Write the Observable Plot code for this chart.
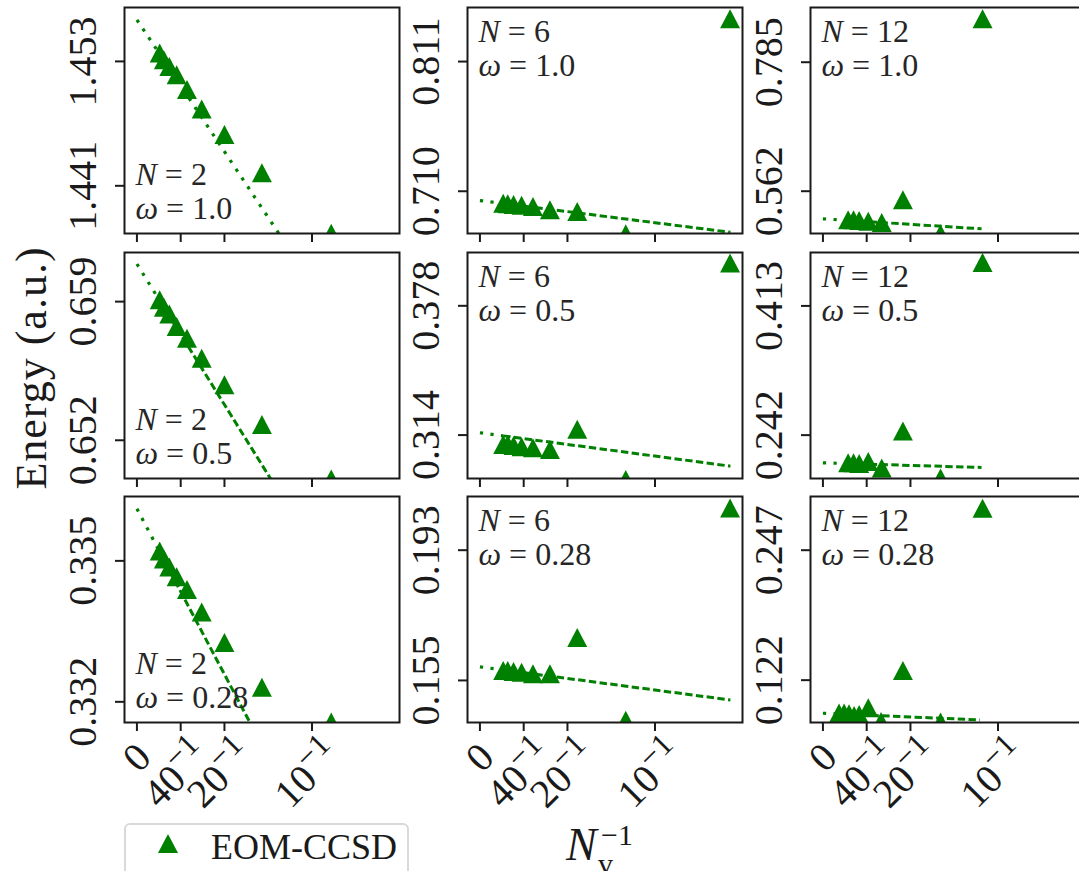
<!DOCTYPE html>
<html><head><meta charset="utf-8">
<script src="https://cdn.jsdelivr.net/npm/d3@7"></script>
<script src="https://cdn.jsdelivr.net/npm/@observablehq/plot@0.6"></script>
<style>
html,body{margin:0;padding:0;background:#fff;overflow:hidden;}
#fig{position:relative;width:1079px;height:871px;overflow:hidden;font-family:"Liberation Serif","DejaVu Serif","Noto Serif",serif;}
.panel{position:absolute;}
</style></head><body><div id="fig"></div>
<script>
// ---------------- data ----------------
const particleNumbers = [2, 6, 12];
const omegaLabels = ["1.0", "0.5", "0.28"];
const xTickValues = [0, 0.025, 0.05, 0.1];
const xTickLabels = ["0", "40^{-1}", "20^{-1}", "10^{-1}"];
const xDomain = [-0.0071, 0.15];

// N_v^{-1} values of the EOM-CCSD points
const nvInvN2 = [0.013, 0.0154, 0.0185, 0.0227, 0.0286, 0.037, 0.05, 0.0714, 0.111];
const nvInvN6 = [0.0133, 0.0159, 0.0192, 0.0238, 0.0303, 0.04, 0.0556, 0.0833, 0.1429];
const nvInvN12 = [0.0144, 0.0175, 0.0207, 0.0259, 0.0336, 0.0457, 0.0672, 0.0912];
const nvInvN12w028 = [0.0092, 0.0121, 0.0149, 0.0178, 0.0207, 0.0259, 0.0332, 0.0457, 0.0672, 0.0912];

// EOM-CCSD energies (a.u.)
const eN2w10 = [1.4538, 1.45316, 1.45252, 1.45172, 1.45028, 1.44841, 1.44595, 1.44226, 1.43642];
const eN2w05 = [0.65909, 0.65871, 0.65838, 0.65774, 0.65715, 0.65614, 0.6548, 0.65279, 0.65005];
const eN2w028 = [0.33521, 0.33504, 0.33487, 0.33466, 0.33439, 0.33391, 0.33326, 0.33231, 0.33157];
const eN6w10 = [0.70066, 0.70019, 0.69964, 0.6991, 0.69809, 0.69552, 0.69419, 0.67683, 0.84425];
const eN6w05 = [0.30939, 0.30939, 0.30889, 0.3082, 0.3077, 0.30691, 0.31683, 0.29202, 0.39918];
const eN6w028 = [0.1579, 0.1579, 0.15761, 0.15741, 0.15694, 0.15694, 0.16756, 0.1434, 0.20527];
const eN12w10 = [0.51256, 0.51256, 0.51135, 0.51014, 0.50789, 0.54713, 0.48836, 0.86002];
const eN12w05 = [0.20528, 0.20528, 0.20449, 0.20714, 0.19865, 0.2473, 0.1854, 0.47061];
const eN12w028 = [0.09034, 0.09034, 0.08967, 0.08805, 0.089, 0.09541, 0.08231, 0.13128, 0.08174, 0.28746];

// extrapolation lines: [N_v^{-1}, energy] at x=0, start of fit, end of fit
const fitN2w10 = [[0, 1.45701], [0.013, 1.45371], [0.111, 1.42879]];
const fitN2w05 = [[0, 0.6609], [0.013, 0.65905], [0.111, 0.64514]];
const fitN2w028 = [[0, 0.33611], [0.013, 0.33519], [0.111, 0.32829]];
const fitN6w10 = [[0, 0.70276], [0.0133, 0.70047], [0.1431, 0.67807]];
const fitN6w05 = [[0, 0.31514], [0.0133, 0.31361], [0.1431, 0.29862]];
const fitN6w028 = [[0, 0.15897], [0.0133, 0.15807], [0.1431, 0.14929]];
const fitN12w10 = [[0, 0.51429], [0.0144, 0.51154], [0.0906, 0.497]];
const fitN12w05 = [[0, 0.20528], [0.0144, 0.20431], [0.0906, 0.19918]];
const fitN12w028 = [[0, 0.09015], [0.0092, 0.08949], [0.0897, 0.08374]];

// y axis limits and ticks
const domN2w10 = [1.4364, 1.4582], ticksN2w10 = [1.441, 1.453];
const domN2w05 = [0.65007, 0.66148], ticksN2w05 = [0.652, 0.659];
const domN2w028 = [0.33156, 0.33637], ticksN2w028 = [0.332, 0.335];
const domN6w10 = [0.6771, 0.8531], ticksN6w10 = [0.710, 0.811];
const domN6w05 = [0.2925, 0.4044], ticksN6w05 = [0.314, 0.378];
const domN6w028 = [0.14273, 0.20866], ticksN6w028 = [0.155, 0.193];
const domN12w10 = [0.4889, 0.8796], ticksN12w10 = [0.562, 0.785];
const domN12w05 = [0.1846, 0.4837], ticksN12w05 = [0.242, 0.413];
const domN12w028 = [0.08126, 0.29865], ticksN12w028 = [0.122, 0.247];

// ---------------- layout ----------------
const GREEN = "#008000";
const INK = "#1a1a1a";
const FONT = '"Liberation Serif","DejaVu Serif","Noto Serif",serif';
const colLeft = [124, 467, 810], rowTop = [7, 252, 496];
const W = 275, H = 226, mL = 60, mR = 2, mT = 2;

const panels = [
  {row: 0, col: 0, x: nvInvN2, y: eN2w10, fit: fitN2w10, dom: domN2w10, ticks: ticksN2w10, allDotted: true},
  {row: 1, col: 0, x: nvInvN2, y: eN2w05, fit: fitN2w05, dom: domN2w05, ticks: ticksN2w05},
  {row: 2, col: 0, x: nvInvN2, y: eN2w028, fit: fitN2w028, dom: domN2w028, ticks: ticksN2w028},
  {row: 0, col: 1, x: nvInvN6, y: eN6w10, fit: fitN6w10, dom: domN6w10, ticks: ticksN6w10},
  {row: 1, col: 1, x: nvInvN6, y: eN6w05, fit: fitN6w05, dom: domN6w05, ticks: ticksN6w05},
  {row: 2, col: 1, x: nvInvN6, y: eN6w028, fit: fitN6w028, dom: domN6w028, ticks: ticksN6w028},
  {row: 0, col: 2, x: nvInvN12, y: eN12w10, fit: fitN12w10, dom: domN12w10, ticks: ticksN12w10},
  {row: 1, col: 2, x: nvInvN12, y: eN12w05, fit: fitN12w05, dom: domN12w05, ticks: ticksN12w05},
  {row: 2, col: 2, x: nvInvN12w028, y: eN12w028, fit: fitN12w028, dom: domN12w028, ticks: ticksN12w028}
];

// matplotlib-like "^" marker
const mplTriangle = {
  draw(ctx, size) {
    const h = Math.sqrt(size / Math.PI);
    ctx.moveTo(0, -h); ctx.lineTo(h * 1.05, h); ctx.lineTo(-h * 1.05, h); ctx.closePath();
  }
};

const NS = "http://www.w3.org/2000/svg";
const fig = document.getElementById("fig");

// overlay for figure-level labels
const over = document.createElementNS(NS, "svg");
over.setAttribute("width", 1079); over.setAttribute("height", 871);
over.style.position = "absolute"; over.style.left = "0"; over.style.top = "0";
over.style.fontFamily = FONT;
over.innerHTML = `
  <text transform="translate(46,368) rotate(-90)" text-anchor="middle" font-size="44" letter-spacing="1" fill="${INK}">Energy (a.u.)</text>
  <text x="566" y="860" font-size="46" font-style="italic" fill="${INK}">N</text>
  <text x="601" y="845" font-size="30" fill="${INK}">\u22121</text>
  <text x="598" y="874" font-size="30" fill="${INK}">v</text>`;
fig.appendChild(over);

const lineBase = {x: "x", y: "y", stroke: GREEN, strokeLinecap: "butt", strokeLinejoin: "miter", clip: true};

for (const p of panels) {
  const bottomRow = p.row === 2;
  const mB = bottomRow ? 100 : 14;
  const pts = p.x.map((x, i) => ({x, y: p.y[i]}));
  const ln = p.fit.map(([x, y]) => ({x, y}));
  const annot = `N = ${particleNumbers[p.col]}\nω = ${omegaLabels[p.row]}`;
  const annotTop = p.col > 0;
  const marks = [
    Plot.line(ln.slice(0, 2), {...lineBase, strokeWidth: 3.2, strokeDasharray: "3.2,7.4"}),
    Plot.line(ln.slice(1), {...lineBase, strokeWidth: p.allDotted ? 3.2 : 3,
      strokeDasharray: p.allDotted ? "3.2,7.4" : "7.4,3.4"}),
    Plot.dot(pts, {x: "x", y: "y", symbol: mplTriangle, r: 9.5, fill: GREEN, stroke: "none", clip: true}),
    Plot.text([annot], {text: d => d, frameAnchor: annotTop ? "top-left" : "bottom-left",
      lineAnchor: annotTop ? "top" : "bottom", dx: 11, dy: annotTop ? 11 : -15, lineHeight: 1.05,
      fontSize: 32, fill: "#262626"}),
    Plot.frame({stroke: INK, strokeWidth: 2}),
    Plot.axisX({ticks: xTickValues, tickSize: 9, strokeWidth: 2, stroke: INK, tickFormat: () => "", label: null}),
    Plot.axisY({ticks: p.ticks, tickSize: 9, strokeWidth: 2, stroke: INK, tickFormat: () => "", label: null}),
    Plot.text(p.ticks, {y: d => d, text: d => d.toFixed(3), frameAnchor: "left", dx: -41, rotate: -90,
      textAnchor: "middle", lineAnchor: "middle", fontSize: 40, fill: INK})
  ];
  if (bottomRow) {
    const lab = xTickValues.map((v, i) => ({v, t: xTickLabels[i]}));
    marks.push(Plot.text(lab.filter(d => !d.t.includes("^")), {x: "v", text: "t", frameAnchor: "bottom",
      dy: 35, rotate: -45, textAnchor: "middle", lineAnchor: "middle", fontSize: 40, fill: INK}));
    marks.push(Plot.text(lab.filter(d => d.t.includes("^")), {x: "v", text: "t", frameAnchor: "bottom",
      dx: -4, dy: 52, rotate: -45, textAnchor: "middle", lineAnchor: "middle", fontSize: 40, fill: INK}));
  }
  const chart = Plot.plot({
    width: W + mL + mR, height: H + mT + mB,
    marginLeft: mL, marginRight: mR, marginTop: mT, marginBottom: mB,
    x: {domain: xDomain, label: null}, y: {domain: p.dom, label: null},
    style: {fontFamily: FONT, background: "transparent", overflow: "visible", maxWidth: "none"},
    marks
  });
  // italic math symbols (N, ω) in annotations
  chart.querySelectorAll("tspan").forEach(ts => {
    const s = ts.textContent;
    if (!/^[Nω] =/.test(s)) return;
    ts.textContent = s.slice(1);
    const it = document.createElementNS(NS, "tspan");
    it.setAttribute("font-style", "italic");
    it.textContent = s[0];
    ts.insertBefore(it, ts.firstChild);
  });
  // superscripts in x tick labels
  chart.querySelectorAll("text").forEach(t => {
    const m = t.textContent.match(/^(.*)\^\{(.*)\}$/);
    if (!m) return;
    t.textContent = m[1];
    const sup = document.createElementNS(NS, "tspan");
    sup.setAttribute("font-size", "0.8em");
    sup.setAttribute("dy", "-0.5em");
    sup.textContent = m[2].replace("-", "\u2212");
    t.appendChild(sup);
  });
  const wrap = document.createElement("div");
  wrap.className = "panel";
  wrap.style.left = (colLeft[p.col] - mL) + "px";
  wrap.style.top = (rowTop[p.row] - mT) + "px";
  wrap.style.width = (W + mL + mR) + "px";
  wrap.style.height = (H + mT + mB) + "px";
  wrap.appendChild(chart);
  fig.appendChild(wrap);
}

// legend
const leg = document.createElement("div");
leg.style.cssText = "position:absolute;left:124px;top:823px;width:285px;height:70px;border:2px solid #d9d9d9;border-radius:6px;box-sizing:border-box;background:#fff;";
leg.innerHTML = `<svg width="40" height="40" style="position:absolute;left:22px;top:-1px"><polygon points="20,10 30,29 10,29" fill="${GREEN}"/></svg>
<span style="position:absolute;left:85px;top:2px;font-family:${FONT.replace(/"/g, "'")};font-size:36px;line-height:40px;color:${INK};white-space:nowrap">EOM-CCSD</span>`;
fig.appendChild(leg);
</script></body></html>
